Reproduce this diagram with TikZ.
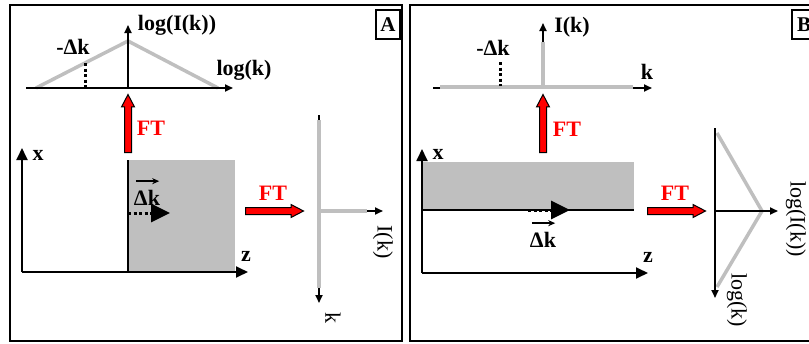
\documentclass[tikz,border=0pt]{standalone}
\usepackage{fontspec}
\setmainfont{Liberation Serif}
\usetikzlibrary{arrows.meta,shapes.arrows}

\tikzset{
  axis/.style={line width=1.8pt, -{Triangle[length=8pt,width=7pt]}},
  bigaxis/.style={line width=1.8pt, -{Triangle[length=12pt,width=11pt]}},
  curve/.style={gray!50, line width=3.5pt},
  dotline/.style={line width=3pt, dash pattern=on 3pt off 2.5pt},
  dotarrow/.style={line width=3pt, dash pattern=on 3pt off 2.5pt, -{Triangle[length=19pt,width=18pt]}},
  vecarrow/.style={line width=1.5pt, -{Stealth[length=7pt,width=6pt]}},
  lbl/.style={font=\bfseries\fontsize{22}{24}\selectfont, inner sep=0pt},
  rlbl/.style={font=\fontsize{22}{24}\selectfont, inner sep=0pt, rotate=-90},
  ftarrow/.style={single arrow, draw=black, fill=red, line width=1pt, minimum height=58pt,
    inner sep=3pt, single arrow head extend=3pt, single arrow tip angle=55},
  ftlbl/.style={font=\bfseries\fontsize{22}{24}\selectfont, text=red, inner sep=0pt},
  panelbox/.style={draw, line width=1.5pt, inner sep=0pt, minimum width=24pt, minimum height=29pt,
    font=\bfseries\fontsize{21}{23}\selectfont},
  frame/.style={line width=2pt}
}

\begin{document}
\begin{tikzpicture}[x=1pt, y=-1pt]
  \useasboundingbox (0,0) rectangle (809,343);

  % ---------------- Panel A ----------------
  \draw[frame] (10,5) rectangle (402,341);
  \node[panelbox] (boxA) at (388,24.5) {A};

  % spectrum (log-log)
  \coordinate (aO) at (128,88);
  \coordinate (aL) at (36,88);
  \coordinate (aP) at (128,41);
  \coordinate (aR) at (218,88);
  \draw[curve] (aL) -- (aP) -- (aR);
  \draw[axis] (26,88) -- (233,88);
  \draw[axis] (aO) -- (128,25);
  \draw[dotline] (85,63) -- (85,88);
  \node[lbl] (logIA) at (177,25) {log(I(k))};
  \node[lbl] (logkA) at (244,70) {log(k)};
  \node[lbl] (dkmA) at (73,47) {-Δk};

  % FT upwards
  \node[ftarrow, rotate=90, anchor=tail] (ftupA) at (128,153) {};
  \node[ftlbl] (ftupAl) at (151,128) {FT};

  % real space
  \coordinate (aX0) at (22,272);
  \fill[gray!50] (128,160) rectangle (235,272);
  \draw[line width=1.8pt] (128,160) -- (128,272);
  \draw[bigaxis] (aX0) -- (22,148);
  \draw[bigaxis] (aX0) -- (248,272);
  \node[lbl] (xA) at (38,155) {x};
  \node[lbl] (zA) at (246,256) {z};
  \coordinate (dsA) at (128,213);
  \coordinate (deA) at (170,213);
  \draw[dotarrow] (dsA) -- (deA);
  \node[lbl] (dkA) at (147,198) {Δk};
  \draw[vecarrow] ([xshift=2pt,yshift=9pt]dkA.north west) -- ([xshift=-1pt,yshift=9pt]dkA.north east);

  % FT sideways
  \node[ftarrow, anchor=tail] (ftrtA) at (245,211) {};
  \node[ftlbl] (ftrtAl) at (273,193) {FT};

  % spectrum (linear)
  \coordinate (bO) at (319,211);
  \draw[axis] (319,115) -- (319,303);
  \draw[curve] (319,120) -- (319,288);
  \draw[axis] (bO) -- (383,211);
  \draw[curve] (bO) -- (367,211);
  \node[rlbl] (IkA) at (383,242) {I(k)};
  \node[rlbl] (kA) at (333,318) {k};

  % ---------------- Panel B ----------------
  \draw[frame] (410,5) rectangle (820,341);
  \node[panelbox] (boxB) at (804,24.5) {B};

  % spectrum (linear)
  \draw[axis] (433,88) -- (652,88);
  \draw[curve] (440,87) -- (633,87);
  \draw[curve] (543,88) -- (543,42);
  \draw[axis] (543,42) -- (543,23);
  \draw[dotline] (500,62) -- (500,86);
  \node[lbl] (IkB) at (572,27) {I(k)};
  \node[lbl] (kB) at (647,72) {k};
  \node[lbl] (dkmB) at (493,48) {-Δk};

  % FT upwards
  \node[ftarrow, rotate=90, anchor=tail] (ftupB) at (543,153) {};
  \node[ftlbl] (ftupBl) at (567,129) {FT};

  % real space
  \coordinate (cX0) at (422,273);
  \fill[gray!50] (422,162) rectangle (634,210);
  \draw[line width=1.8pt] (422,210) -- (634,210);
  \draw[bigaxis] (cX0) -- (422,149);
  \draw[bigaxis] (cX0) -- (648,273);
  \node[lbl] (xB) at (438,154) {x};
  \node[lbl] (zB) at (648,257) {z};
  \coordinate (dsB) at (528,210);
  \coordinate (deB) at (570,210);
  \draw[dotarrow] (dsB) -- (deB);
  \node[lbl] (dkB) at (543,240) {Δk};
  \draw[vecarrow] ([xshift=2pt,yshift=9pt]dkB.north west) -- ([xshift=-1pt,yshift=9pt]dkB.north east);

  % FT sideways
  \node[ftarrow, anchor=tail] (ftrtB) at (647,211) {};
  \node[ftlbl] (ftrtBl) at (675,193) {FT};

  % spectrum (log-log)
  \coordinate (dO) at (715,211);
  \coordinate (dT) at (717,133);
  \coordinate (dV) at (762,211);
  \coordinate (dB) at (717,287);
  \draw[curve] (dT) -- (dV) -- (dB);
  \draw[axis] (715,128) -- (715,298);
  \draw[axis] (dO) -- (778,211);
  \node[rlbl] (logIB) at (796,219) {log(I(k))};
  \node[rlbl] (logkB) at (737,300) {log(k)};
\end{tikzpicture}
\end{document}
